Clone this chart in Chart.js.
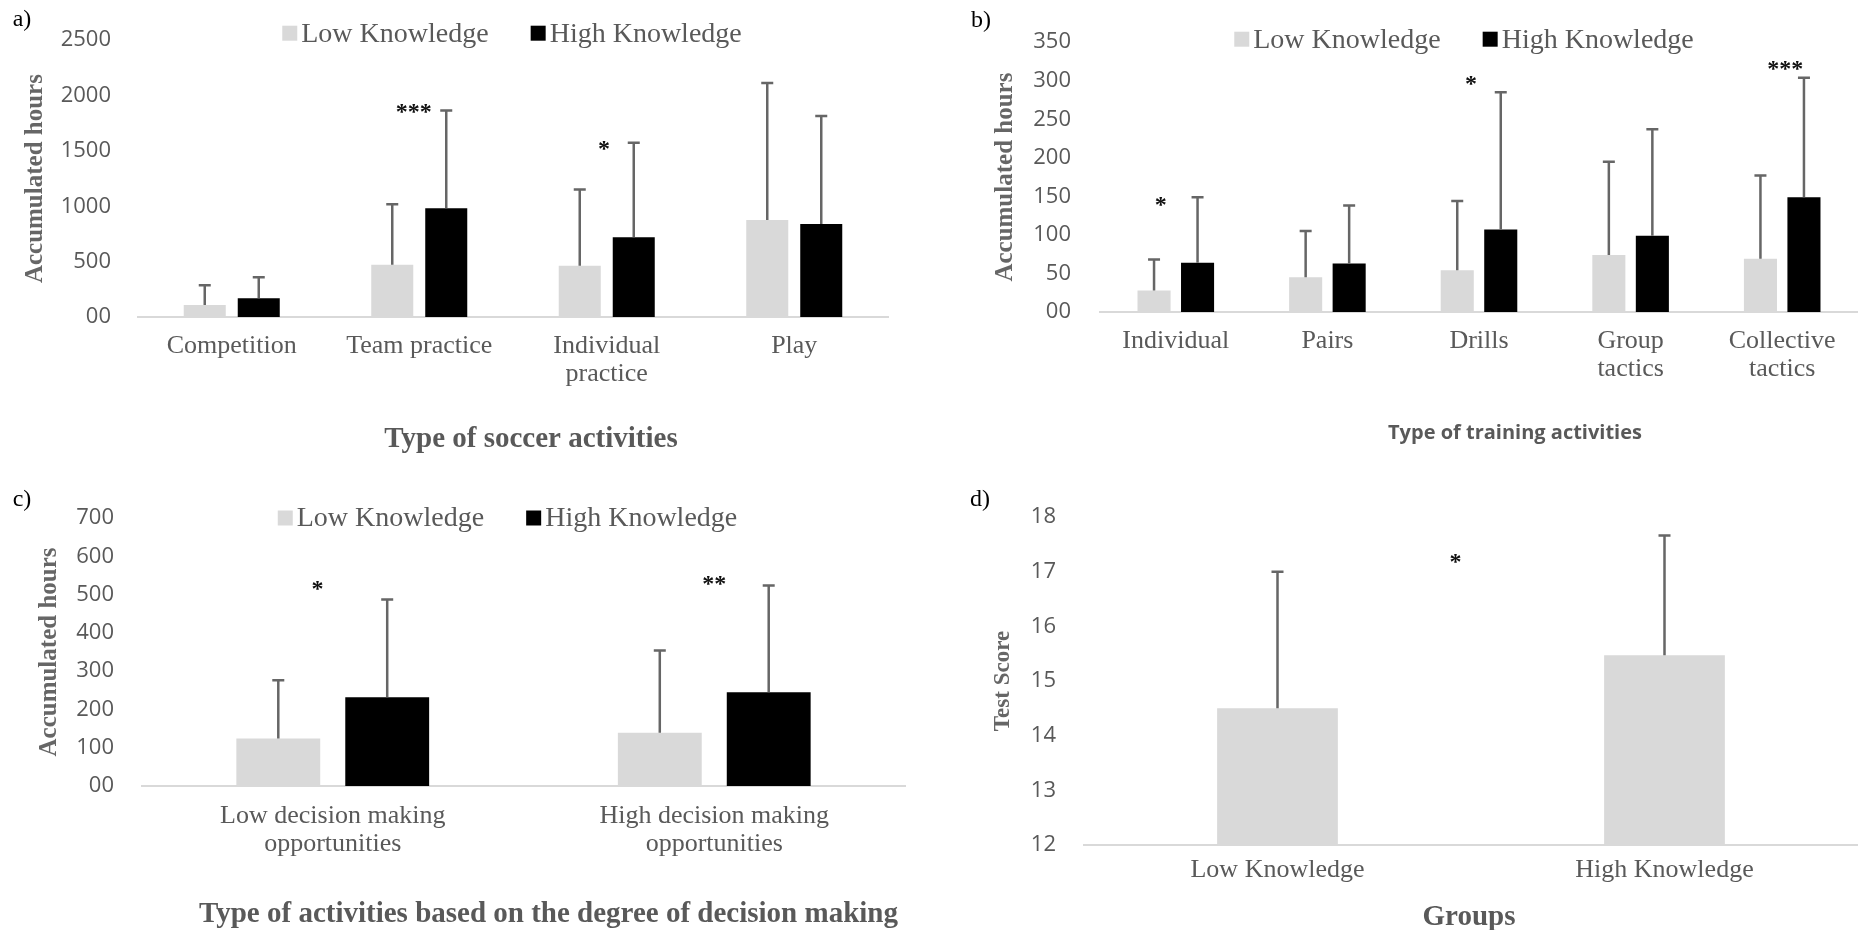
<!DOCTYPE html>
<html>
<head>
<meta charset="utf-8">
<script src="https://cdn.jsdelivr.net/npm/chart.js@4.4.1/dist/chart.umd.min.js"></script>
<style>
  body { margin: 0; background: #fff; }
  canvas { position: absolute; }
</style>
</head>
<body>
<canvas id="chartA" width="929" height="465" style="left:0;top:0"></canvas>
<canvas id="chartB" width="929" height="465" style="left:929px;top:0"></canvas>
<canvas id="chartC" width="929" height="465" style="left:0;top:465px"></canvas>
<canvas id="chartD" width="929" height="465" style="left:929px;top:465px"></canvas>
<script>
// a) soccer activities
const categoriesA = ['Competition', 'Team practice', ['Individual', 'practice'], 'Play'];
const lowA = [108, 473, 464, 875];
const lowSdA = [178, 545, 688, 1238];
const highA = [170, 982, 720, 839];
const highSdA = [190, 884, 854, 976];
const ticksA = [0, 500, 1000, 1500, 2000, 2500];
const starTextA = ['***', '*'];
const starCatA = [0.97, 1.985];
const starValA = [1885, 1545];

// b) training activities
const categoriesB = ['Individual', 'Pairs', 'Drills', ['Group', 'tactics'], ['Collective', 'tactics']];
const lowB = [28, 45, 54, 74, 69];
const lowSdB = [40, 60, 90, 121, 108];
const highB = [64, 63, 107, 99, 149];
const highSdB = [85, 75, 178, 138, 155];
const ticksB = [0, 50, 100, 150, 200, 250, 300, 350];
const starTextB = ['*', '*', '***'];
const starCatB = [-0.1, 1.947, 4.02];
const starValB = [143, 300, 320];

// c) decision making
const categoriesC = [['Low decision making', 'opportunities'], ['High decision making', 'opportunities']];
const lowC = [124, 139];
const lowSdC = [152, 215];
const highC = [232, 245];
const highSdC = [255, 279];
const ticksC = [0, 100, 200, 300, 400, 500, 600, 700];
const starTextC = ['*', '**'];
const starCatC = [-0.04, 1.0];
const starValC = [523, 538];

// d) test score
const categoriesD = ['Low Knowledge', 'High Knowledge'];
const scoreD = [14.5, 15.47];
const scoreSdD = [2.5, 2.19];
const ticksD = [12, 13, 14, 15, 16, 17, 18];
const starTextD = ['*'];
const starCatD = [0.46];
const starValD = [17.25];

const grey = '#595959';
const lightBar = '#d9d9d9';
const serif = "'Liberation Serif', 'Times New Roman', serif";
const sans = "'Open Sans', 'Liberation Sans', sans-serif";

// error bars, stars, legend, panel letter and x title
const extrasPlugin = {
  id: 'extras',
  afterDatasetsDraw(chart, args, opts) {
    const ctx = chart.ctx;
    const xs = chart.scales.x, ys = chart.scales.y;
    ctx.save();
    ctx.strokeStyle = '#666';
    ctx.lineWidth = 2.5;
    opts.errors.forEach((sd, di) => {
      const vals = chart.data.datasets[di].data;
      chart.getDatasetMeta(di).data.forEach((bar, i) => {
        const top = ys.getPixelForValue(vals[i] + sd[i]);
        ctx.beginPath();
        ctx.moveTo(bar.x, bar.y);
        ctx.lineTo(bar.x, top);
        ctx.moveTo(bar.x - 6, top);
        ctx.lineTo(bar.x + 6, top);
        ctx.stroke();
      });
    });
    ctx.fillStyle = '#111';
    ctx.font = 'bold 24px ' + serif;
    ctx.textAlign = 'center';
    ctx.textBaseline = 'alphabetic';
    opts.starText.forEach((t, i) => {
      const m = ctx.measureText(t);
      const cy = ys.getPixelForValue(opts.starVal[i]);
      ctx.fillText(t, xs.getPixelForValue(opts.starCat[i]), cy + (m.actualBoundingBoxAscent - m.actualBoundingBoxDescent) / 2);
    });
    ctx.restore();
  },
  afterDraw(chart, args, opts) {
    const ctx = chart.ctx;
    const area = chart.chartArea;
    const mid = (area.left + area.right) / 2;
    ctx.save();
    // panel letter
    ctx.fillStyle = '#000';
    ctx.font = '24px ' + serif;
    ctx.textAlign = 'center';
    ctx.textBaseline = 'middle';
    ctx.fillText(opts.panel[0], opts.panel[1], opts.panel[2]);
    // legend
    if (opts.legend) {
      ctx.font = '28px ' + serif;
      const box = 15, gap = 4, itemGap = 42;
      const items = chart.data.datasets.map(d => ({ label: d.label, color: d.backgroundColor, w: ctx.measureText(d.label).width }));
      const total = items.reduce((s, it) => s + box + gap + it.w, 0) + itemGap * (items.length - 1);
      let x = mid + opts.legend.shift - total / 2;
      const y = area.top + opts.legend.dy;
      ctx.textAlign = 'left';
      items.forEach(it => {
        ctx.fillStyle = it.color;
        ctx.fillRect(x, y - box / 2, box, box);
        ctx.fillStyle = grey;
        ctx.fillText(it.label, x + box + gap, y + 1);
        x += box + gap + it.w + itemGap;
      });
    }
    // x axis title
    ctx.fillStyle = opts.xTitle.color;
    ctx.font = opts.xTitle.font;
    ctx.textAlign = 'center';
    ctx.fillText(opts.xTitle.text, mid + opts.xTitle.shift, opts.xTitle.y);
    ctx.restore();
  }
};

function makeChart(id, cfg) {
  return new Chart(document.getElementById(id), {
    type: 'bar',
    data: { labels: cfg.labels, datasets: cfg.datasets },
    options: {
      responsive: false,
      animation: false,
      layout: { padding: cfg.padding },
      plugins: {
        legend: { display: false },
        tooltip: { enabled: false },
        extras: cfg.extras
      },
      scales: {
        x: {
          grid: { display: false, drawTicks: false },
          border: { display: true, color: '#d9d9d9', width: 2 },
          ticks: {
            color: grey,
            font: { family: serif, size: 26, lineHeight: 1.05 },
            padding: cfg.xPad,
            maxRotation: 0,
            minRotation: 0,
            autoSkip: false
          },
          afterFit: s => { s.height = cfg.xHeight; }
        },
        y: {
          min: cfg.ticks[0],
          max: cfg.ticks[cfg.ticks.length - 1],
          grid: { display: false, drawTicks: false },
          border: { display: false },
          ticks: {
            color: grey,
            font: { family: sans, size: 22 },
            padding: cfg.yPad,
            callback: v => (v === 0 ? '00' : v)
          },
          title: {
            display: true,
            text: cfg.yTitle,
            color: '#666',
            font: { family: serif, size: cfg.yTitleSize, weight: 'bold', lineHeight: 1.2 },
            padding: { top: cfg.yTitlePad, bottom: 0 }
          },
          afterBuildTicks: s => { s.ticks = cfg.ticks.map(v => ({ value: v })); },
          afterFit: s => { s.width = cfg.yWidth; }
        }
      }
    },
    plugins: [extrasPlugin]
  });
}

function pairSets(low, high, cat, bar) {
  return [
    { label: 'Low Knowledge', data: low, backgroundColor: lightBar, categoryPercentage: cat, barPercentage: bar },
    { label: 'High Knowledge', data: high, backgroundColor: '#000', categoryPercentage: cat, barPercentage: bar }
  ];
}

const serifTitle = 'bold 29px ' + serif;

makeChart('chartA', {
  labels: categoriesA,
  datasets: pairSets(lowA, highA, 0.576, 0.778),
  ticks: ticksA,
  padding: { top: 37, right: 41, bottom: 0, left: 0 },
  xHeight: 148, yWidth: 138, xPad: 16, yPad: 27,
  yTitle: 'Accumulated hours', yTitleSize: 25, yTitlePad: 21,
  extras: {
    errors: [lowSdA, highSdA],
    starText: starTextA, starCat: starCatA, starVal: starValA,
    panel: ['a)', 22, 20],
    legend: { shift: -1, dy: -7 },
    xTitle: { text: 'Type of soccer activities', font: serifTitle, color: grey, y: 440, shift: 18 }
  }
});

makeChart('chartB', {
  labels: categoriesB,
  datasets: pairSets(lowB, highB, 0.574, 0.76),
  ticks: ticksB,
  padding: { top: 38, right: 0, bottom: 0, left: 0 },
  xHeight: 153, yWidth: 171, xPad: 16, yPad: 29,
  yTitle: 'Accumulated hours', yTitleSize: 25, yTitlePad: 62,
  extras: {
    errors: [lowSdB, highSdB],
    starText: starTextB, starCat: starCatB, starVal: starValB,
    panel: ['b)', 52, 21],
    legend: { shift: -15, dy: -3 },
    xTitle: { text: 'Type of training activities', font: 'bold 20px ' + sans, color: grey, y: 433, shift: 36 }
  }
});

makeChart('chartC', {
  labels: categoriesC,
  datasets: pairSets(lowC, highC, 0.571, 0.77),
  ticks: ticksC,
  padding: { top: 53, right: 24, bottom: 0, left: 0 },
  xHeight: 144, yWidth: 142, xPad: 17, yPad: 28,
  yTitle: 'Accumulated hours', yTitleSize: 25, yTitlePad: 35,
  extras: {
    errors: [lowSdC, highSdC],
    starText: starTextC, starCat: starCatC, starVal: starValC,
    panel: ['c)', 22, 35],
    legend: { shift: -16, dy: 0 },
    xTitle: { text: 'Type of activities based on the degree of decision making', font: serifTitle, color: grey, y: 450, shift: 25 }
  }
});

makeChart('chartD', {
  labels: categoriesD,
  datasets: [{ label: 'Test Score', data: scoreD, backgroundColor: lightBar, categoryPercentage: 0.8, barPercentage: 0.39 }],
  ticks: ticksD,
  padding: { top: 52, right: 0, bottom: 0, left: 0 },
  xHeight: 85, yWidth: 155, xPad: 12, yPad: 28,
  yTitle: 'Test Score', yTitleSize: 23, yTitlePad: 60,
  extras: {
    errors: [scoreSdD],
    starText: starTextD, starCat: starCatD, starVal: starValD,
    panel: ['d)', 51, 35],
    legend: null,
    xTitle: { text: 'Groups', font: serifTitle, color: grey, y: 453, shift: -2 }
  }
});
</script>
</body>
</html>
